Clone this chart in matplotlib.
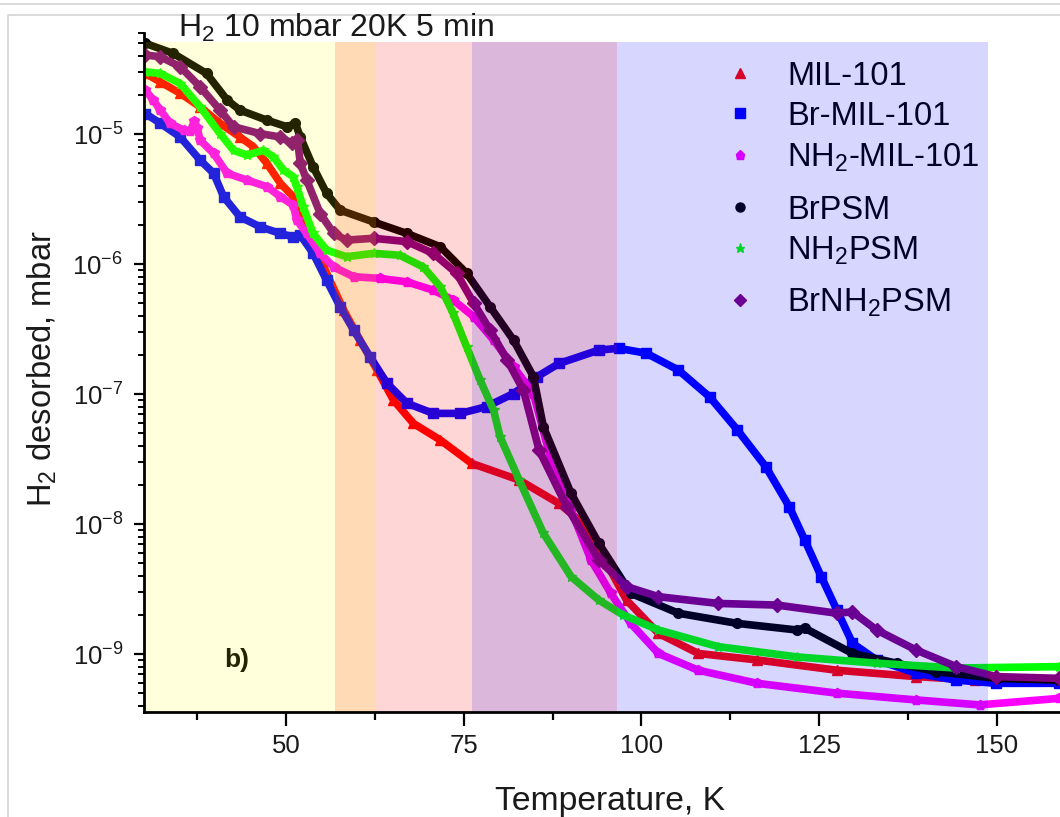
import matplotlib
matplotlib.use("Agg")
import matplotlib.pyplot as plt
from matplotlib.lines import Line2D
from matplotlib.ticker import MultipleLocator, LogLocator, NullFormatter

plt.rcParams['font.family'] = ['Liberation Sans', 'DejaVu Sans']
plt.rcParams['mathtext.fontset'] = 'custom'
plt.rcParams['mathtext.rm'] = 'Liberation Sans'
plt.rcParams['mathtext.it'] = 'Liberation Sans:italic'
plt.rcParams['mathtext.bf'] = 'Liberation Sans:bold'
plt.rcParams['mathtext.default'] = 'regular'
plt.rcParams['axes.unicode_minus'] = False

# ---------------- data ----------------
labels = ["MIL-101", "Br-MIL-101", "NH$_2$-MIL-101", "BrPSM", "NH$_2$PSM", "BrNH$_2$PSM"]
colors = ["#ff0000", "#0000ff", "#ff00ff", "#000000", "#00ff00", "#800080"]
markers = ["^", "s", "p", "o", "*", "D"]

T_mil = [30.2, 32.3, 35.1, 37.9, 40.7, 43.5, 45.4, 47.3, 49.2, 51.0, 52.0, 53.8, 55.7, 58.1,
         60.4, 62.8, 65.1, 67.9, 71.7, 76.1, 82.8, 88.4, 91.8, 95.1, 97.9, 102.4, 108.0,
         116.3, 127.5, 138.7, 147.0, 158.8]
p_mil = [2.93e-5, 2.52e-5, 2.06e-5, 1.62e-5, 1.21e-5, 9.5e-6, 8.0e-6, 5.95e-6, 4.18e-6, 3.3e-6,
         2.45e-6, 1.53e-6, 8.5e-7, 4.43e-7, 2.6e-7, 1.53e-7, 9.0e-8, 5.95e-8, 4.43e-8, 2.93e-8,
         2.18e-8, 1.44e-8, 1.01e-8, 5.0e-9, 2.6e-9, 1.44e-9, 1.01e-9, 9.0e-10, 7.5e-10,
         6.7e-10, 6.3e-10, 6.2e-10]

T_br = [30.2, 32.3, 35.1, 37.9, 39.8, 41.2, 43.5, 46.3, 49.2, 51.0, 52.0, 53.8, 55.7, 57.6,
        59.5, 61.8, 64.2, 67.0, 70.7, 74.5, 78.2, 82.0, 85.3, 88.4, 94.0, 96.8, 100.7, 105.2,
        109.6, 113.5, 117.5, 120.8, 123.0, 125.3, 127.5, 129.7, 133.1, 138.7, 144.3, 149.9, 158.8]
p_br = [1.44e-5, 1.21e-5, 9.5e-6, 6.3e-6, 5.0e-6, 3.3e-6, 2.31e-6, 1.94e-6, 1.72e-6, 1.62e-6,
        1.67e-6, 1.21e-6, 7.5e-7, 4.7e-7, 3.1e-7, 1.94e-7, 1.21e-7, 8.5e-8, 7.1e-8, 7.1e-8,
        8.0e-8, 1.01e-7, 1.36e-7, 1.72e-7, 2.18e-7, 2.25e-7, 2.06e-7, 1.53e-7, 9.5e-8, 5.3e-8,
        2.76e-8, 1.36e-8, 7.5e-9, 3.94e-9, 2.18e-9, 1.21e-9, 9.0e-10, 7.1e-10, 6.3e-10,
        5.95e-10, 5.95e-10]

T_nh2 = [30.2, 31.3, 32.3, 33.7, 35.6, 36.5, 37.1, 37.5, 37.9, 39.8, 41.7, 44.5, 47.3, 49.2,
         51.0, 51.5, 52.9, 54.8, 56.7, 59.5, 63.2, 67.0, 70.7, 73.5, 76.4, 79.2, 82.0, 84.8,
         87.3, 90.1, 92.9, 95.7, 98.5, 102.4, 108.0, 116.3, 127.5, 138.7, 147.6, 158.8]
p_nh2 = [2.18e-5, 1.83e-5, 1.53e-5, 1.21e-5, 1.07e-5, 1.05e-5, 1.26e-5, 1.11e-5, 9.0e-6, 7.1e-6,
         5.0e-6, 4.43e-6, 3.94e-6, 3.3e-6, 2.84e-6, 2.18e-6, 1.72e-6, 1.21e-6, 9.5e-7, 8.0e-7,
         7.76e-7, 7.3e-7, 6.3e-7, 5.3e-7, 3.94e-7, 2.6e-7, 1.62e-7, 1.01e-7, 3.1e-8, 1.28e-8,
         5.3e-9, 2.93e-9, 1.72e-9, 1.01e-9, 7.5e-10, 5.95e-10, 5.0e-10, 4.43e-10, 4.06e-10,
         4.56e-10]

T_brpsm = [30.2, 34.1, 38.8, 41.7, 43.5, 47.3, 50.1, 51.3, 52.0, 53.8, 55.7, 57.6, 62.3, 67.0,
           71.7, 75.4, 78.7, 82.0, 84.8, 86.2, 90.1, 94.0, 98.5, 105.2, 113.5, 121.9, 123.0,
           129.7, 135.9, 141.5, 150.0, 158.8]
p_brpsm = [4.99e-5, 4.18e-5, 2.93e-5, 1.83e-5, 1.53e-5, 1.28e-5, 1.14e-5, 1.21e-5, 9.5e-6,
           5.6e-6, 3.5e-6, 2.6e-6, 2.11e-6, 1.72e-6, 1.36e-6, 8.5e-7, 4.7e-7, 2.6e-7, 1.36e-7,
           5.6e-8, 1.72e-8, 7.1e-9, 2.93e-9, 2.06e-9, 1.72e-9, 1.53e-9, 1.58e-9, 1.01e-9,
           8.5e-10, 7.3e-10, 6.5e-10, 6.3e-10]

T_nh2psm = [30.2, 32.3, 35.1, 37.9, 40.7, 42.6, 44.5, 46.8, 48.2, 49.6, 51.0, 51.5, 52.4, 53.8,
            55.7, 58.5, 62.3, 66.0, 69.3, 71.7, 73.5, 75.4, 77.3, 79.2, 80.1, 82.8, 86.2, 90.1,
            94.0, 97.4, 102.4, 110.8, 121.9, 133.1, 144.3, 158.8]
p_nh2psm = [3.01e-5, 2.93e-5, 2.45e-5, 1.62e-5, 1.01e-5, 7.5e-6, 6.9e-6, 7.5e-6, 6.7e-6, 5.3e-6,
            4.7e-6, 3.94e-6, 2.76e-6, 1.72e-6, 1.28e-6, 1.14e-6, 1.21e-6, 1.17e-6, 9.5e-7,
            6.7e-7, 4.18e-7, 2.31e-7, 1.28e-7, 7.5e-8, 4.7e-8, 2.18e-8, 8.5e-9, 3.94e-9, 2.6e-9,
            2.0e-9, 1.53e-9, 1.14e-9, 9.5e-10, 8.5e-10, 7.8e-10, 8.0e-10]

T_brnh2 = [30.2, 32.3, 35.1, 37.9, 40.7, 42.6, 46.3, 49.2, 50.8, 51.6, 52.0, 52.9, 54.8, 56.7,
           58.5, 62.3, 67.0, 70.7, 74.0, 76.4, 78.7, 81.1, 83.4, 85.6, 89.5, 94.0, 97.9, 102.4,
           110.8, 119.1, 127.5, 129.7, 133.1, 138.7, 144.3, 149.9, 158.8]
p_brnh2 = [4.06e-5, 3.94e-5, 3.3e-5, 2.31e-5, 1.53e-5, 1.14e-5, 1.01e-5, 9.5e-6, 8.5e-6, 9.0e-6,
           5.95e-6, 4.43e-6, 2.45e-6, 1.72e-6, 1.53e-6, 1.58e-6, 1.49e-6, 1.21e-6, 8.5e-7,
           5.0e-7, 3.1e-7, 1.83e-7, 1.07e-7, 3.7e-8, 1.36e-8, 5.3e-9, 3.3e-9, 2.76e-9, 2.45e-9,
           2.38e-9, 2.06e-9, 2.11e-9, 1.53e-9, 1.07e-9, 8.0e-10, 6.7e-10, 6.5e-10]

series_T = [T_mil, T_br, T_nh2, T_brpsm, T_nh2psm, T_brnh2]
series_p = [p_mil, p_br, p_nh2, p_brpsm, p_nh2psm, p_brnh2]

# temperature bands (K) and overlay colours
band_edges = [30, 56.9, 62.7, 76.2, 96.6, 148.7]
band_colors = ["#ffff00", "#ff8000", "#ff0000", "#800080", "#0000ff"]
band_alphas = [0.14, 0.29, 0.16, 0.28, 0.16]

x_ticks = [50, 75, 100, 125, 150]
y_ticks = [1e-9, 1e-8, 1e-7, 1e-6, 1e-5]

# ---------------- figure ----------------
W, H = 1060, 817
fig = plt.figure(figsize=(W / 100, H / 100), dpi=100)
ax_left, ax_right, ax_top, ax_bot = 144, 1060, 33, 712
ax = fig.add_axes([ax_left / W, 1 - ax_bot / H, (ax_right - ax_left) / W, (ax_bot - ax_top) / H])


def ax_xy(px, py):
    """figure pixel (from top-left) -> axes fraction"""
    return (px - ax_left) / (ax_right - ax_left), (ax_bot - py) / (ax_bot - ax_top)


for T, p, c, m in zip(series_T, series_p, colors, markers):
    ax.plot(T, p, color=c, lw=5.5, solid_joinstyle='round', solid_capstyle='round',
            marker=m, ms=7, mec=c, mfc=c, zorder=2)

band_top = (ax_bot - 42) / (ax_bot - ax_top)
for i, (c, a) in enumerate(zip(band_colors, band_alphas)):
    ax.axvspan(band_edges[i], band_edges[i + 1], ymin=0, ymax=band_top, color=c, alpha=a,
               lw=0, zorder=4)

ax.set_yscale('log')
ax.set_xlim(30, 158.9)
ax.set_ylim(3.58e-10, 6.0e-5)

ax.set_xticks(x_ticks)
ax.xaxis.set_minor_locator(MultipleLocator(12.5))
ax.set_yticks(y_ticks)
ax.yaxis.set_minor_locator(LogLocator(base=10, subs=range(2, 10), numticks=20))
ax.yaxis.set_minor_formatter(NullFormatter())

for s in ['top', 'right']:
    ax.spines[s].set_visible(False)
for s in ['left', 'bottom']:
    ax.spines[s].set_linewidth(2.0)
    ax.spines[s].set_zorder(6)

ax.tick_params(axis='x', which='major', direction='out', length=10, width=1.6, pad=5.5,
               labelsize=18.5)
ax.tick_params(axis='x', which='minor', direction='out', length=6, width=1.6)
ax.tick_params(axis='y', which='major', direction='out', length=7, width=1.6, pad=8,
               labelsize=18.5)
ax.tick_params(axis='y', which='minor', direction='out', length=4, width=1.4)
for t in ax.get_xticklabels() + ax.get_yticklabels():
    t.set_color('#1a1a1a')

# axis titles placed in figure pixels
fig.text(610 / W, 1 - 810 / H, "Temperature, K", fontsize=24.3, color='#1a1a1a',
         ha='center', va='baseline')
fig.text(52 / W, 1 - 369 / H, "H$_2$ desorbed, mbar", fontsize=23.5, color='#1a1a1a',
         ha='center', va='baseline', rotation=90, rotation_mode='anchor')

ax.text(43.0, 9.0e-10, "b)", fontsize=19, fontweight='bold', ha='center', va='center',
        color='black', zorder=3)

# legend (drawn under the band overlay, as in the original)
leg_marker_x = 740
leg_text_x = 787
leg_rows_y = [73, 113, 155, 207, 248, 300]
cap_half = 11.7
for lab, c, m, py in zip(labels, colors, markers, leg_rows_y):
    mx, my = ax_xy(leg_marker_x, py)
    ax.plot([mx], [my], ls='none', marker=m, color=c, ms=6.5, transform=ax.transAxes,
            clip_on=False, zorder=3)
    tx, ty = ax_xy(leg_text_x, py + cap_half)
    ax.text(tx, ty, lab, transform=ax.transAxes, fontsize=23.5, ha='left', va='baseline',
            color='black', zorder=3)

fig.text(178 / W, 1 - 37 / H, "H$_2$ 10 mbar 20K 5 min", fontsize=23, va='baseline',
         ha='left', color='#1a1a1a')

# light frame lines of the original graphic
fig.add_artist(Line2D([0, 1], [1 - 4 / H, 1 - 4 / H], transform=fig.transFigure,
                      color='#d4d4d4', lw=1.2))
fig.add_artist(Line2D([8 / W, 8 / W, 1], [0, 1 - 15 / H, 1 - 15 / H], transform=fig.transFigure,
                      color='#d4d4d4', lw=1.2))

fig.savefig("out.png", dpi=100)
